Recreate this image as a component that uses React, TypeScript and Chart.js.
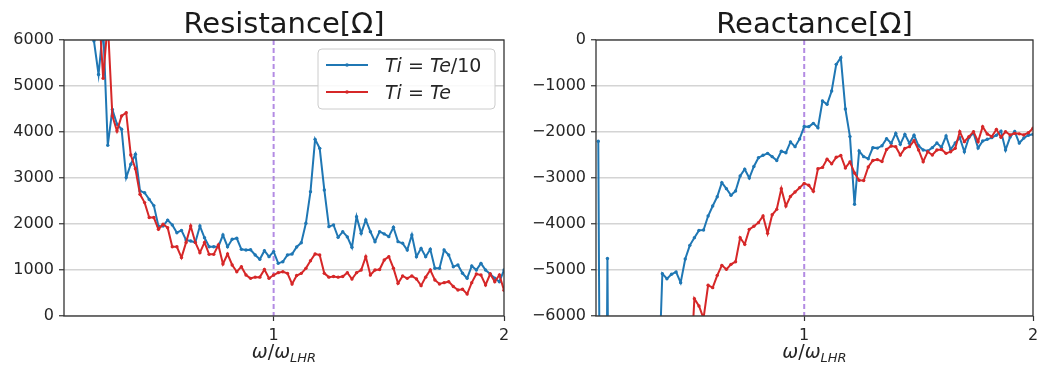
import React, { useEffect, useRef } from "react";
import { Chart, registerables } from "chart.js";

Chart.register(...registerables);

// ω/ω_LHR grid
const freq = [
  0.10, 0.12, 0.14, 0.16, 0.18, 0.20, 0.22, 0.24, 0.26, 0.28,
  0.30, 0.32, 0.34, 0.36, 0.38, 0.40, 0.42, 0.44, 0.46, 0.48,
  0.50, 0.52, 0.54, 0.56, 0.58, 0.60, 0.62, 0.64, 0.66, 0.68,
  0.70, 0.72, 0.74, 0.76, 0.78, 0.80, 0.82, 0.84, 0.86, 0.88,
  0.90, 0.92, 0.94, 0.96, 0.98, 1.00, 1.02, 1.04, 1.06, 1.08,
  1.10, 1.12, 1.14, 1.16, 1.18, 1.20, 1.22, 1.24, 1.26, 1.28,
  1.30, 1.32, 1.34, 1.36, 1.38, 1.40, 1.42, 1.44, 1.46, 1.48,
  1.50, 1.52, 1.54, 1.56, 1.58, 1.60, 1.62, 1.64, 1.66, 1.68,
  1.70, 1.72, 1.74, 1.76, 1.78, 1.80, 1.82, 1.84, 1.86, 1.88,
  1.90, 1.92, 1.94, 1.96, 1.98, 2.00,
];

// Resistance [Ω], Ti = Te/10
const resBlue = [
  12000, 11000, 10000, 9000, 8000, 7000, 5980, 5250, 6300, 3710,
  4490, 4170, 4060, 3010, 3300, 3515, 2720, 2680, 2535, 2400,
  1950, 1955, 2085, 1980, 1810, 1860, 1650, 1630, 1600, 1955,
  1700, 1505, 1505, 1507, 1760, 1507, 1667, 1690, 1449, 1434,
  1440, 1326, 1232, 1420, 1290, 1400, 1145, 1180, 1326, 1348,
  1500, 1594, 2015, 2703, 3840, 3645, 2740, 1942, 1980, 1710,
  1833, 1720, 1493, 2160, 1797, 2087, 1833, 1616, 1833, 1785,
  1725, 1928, 1616, 1580, 1435, 1760, 1290, 1470, 1290, 1450,
  1037, 1037, 1435, 1326, 1072, 1110, 928, 820, 1087, 1000,
  1145, 1000, 913, 820, 746, 1000,
];

// Resistance [Ω], Ti = Te
const resRed = [
  12000, 11000, 10000, 9000, 8000, 7500, 7000, 6800, 5170, 6400,
  4350, 4020, 4350, 4420, 3500, 3200, 2645, 2465, 2140, 2140,
  1885, 1995, 1920, 1505, 1505, 1270, 1600, 1955, 1600, 1377,
  1600, 1340, 1340, 1543, 1130, 1348, 1109, 963, 1072, 891,
  819, 845, 845, 1010, 819, 891, 942, 963, 927, 696,
  880, 927, 1036, 1200, 1348, 1326, 927, 845, 860, 845,
  860, 942, 805, 942, 1000, 1290, 891, 1000, 1010, 1217,
  1290, 1040, 710, 870, 819, 870, 805, 660, 845, 1000,
  783, 696, 725, 746, 640, 565, 580, 478, 725, 913,
  891, 674, 913, 746, 891, 560,
];

// Reactance [Ω], Ti = Te/10
const reaBlue = [
  -2200, -20000, -4750, -20000, -20000, -20000, -20000, -20000, -20000, -20000,
  -20000, -20000, -20000, -8000, -5080, -5190, -5094, -5043, -5275, -4760,
  -4464, -4297, -4138, -4130, -3826, -3609, -3406, -3100, -3232, -3377,
  -3283, -2957, -2810, -3000, -2750, -2558, -2507, -2464, -2536, -2620,
  -2420, -2450, -2217, -2319, -2150, -1880, -1884, -1812, -1906, -1326,
  -1399, -1109, -529, -384, -1500, -2100, -3572, -2413, -2536, -2580,
  -2341, -2350, -2300, -2145, -2246, -2029, -2268, -2051, -2246, -2070,
  -2300, -2390, -2413, -2340, -2240, -2330, -2087, -2380, -2240, -2123,
  -2430, -2120, -2020, -2350, -2196, -2159, -2123, -2070, -1980, -2391,
  -2110, -1990, -2240, -2130, -2070, -2051,
];

// Reactance [Ω], Ti = Te
const reaRed = [
  -20000, -20000, -20000, -20000, -20000, -20000, -20000, -20000, -20000, -20000,
  -20000, -20000, -20000, -20000, -20000, -20000, -20000, -20000, -20000, -20000,
  -7500, -5623, -5783, -6050, -5333, -5384, -5116, -4899, -4986, -4877,
  -4820, -4300, -4442, -4116, -4050, -3971, -3826, -4203, -3800, -3681,
  -3232, -3609, -3400, -3304, -3210, -3116, -3159, -3290, -2800, -2770,
  -2590, -2690, -2550, -2510, -2780, -2650, -2890, -3050, -3055, -2760,
  -2620, -2600, -2640, -2380, -2304, -2319, -2500, -2355, -2319, -2188,
  -2391, -2645, -2428, -2500, -2391, -2380, -2464, -2428, -2355, -1993,
  -2210, -2101, -1993, -2210, -1884, -2043, -2101, -1942, -2116, -1993,
  -2065, -2029, -2040, -2065, -2015, -1920,
];

const xTickValues = [1, 2];
const resYTicks = [0, 1000, 2000, 3000, 4000, 5000, 6000];
const reaYTicks = [-6000, -5000, -4000, -3000, -2000, -1000, 0];
const seriesLabels = ["Ti = Te/10", "Ti = Te"];
const titles = ["Resistance[Ω]", "Reactance[Ω]"];

const BLUE = "#1f77b4";
const RED = "#d62728";
const FONT = "'DejaVu Sans', sans-serif";
const TEXT = "#262626";

type Piece = { t: string; italic?: boolean; scale?: number; dy?: number };

function drawPieces(ctx: CanvasRenderingContext2D, pieces: Piece[], x: number, y: number, size: number, align: "left" | "center") {
  const fontFor = (p: Piece) => `${p.italic ? "italic " : ""}${Math.round(size * (p.scale || 1))}px ${FONT}`;
  let total = 0;
  for (const p of pieces) {
    ctx.font = fontFor(p);
    total += ctx.measureText(p.t).width;
  }
  let cx = align === "center" ? x - total / 2 : x;
  ctx.textAlign = "left";
  ctx.textBaseline = "alphabetic";
  for (const p of pieces) {
    ctx.font = fontFor(p);
    ctx.fillText(p.t, cx, y + (p.dy || 0));
    cx += ctx.measureText(p.t).width;
  }
}

function mathLabel(label: string): Piece[] {
  if (label.indexOf("/") >= 0) {
    return [{ t: "Ti", italic: true }, { t: " = " }, { t: "Te", italic: true }, { t: "/10" }];
  }
  return [{ t: "Ti", italic: true }, { t: " = " }, { t: "Te", italic: true }];
}

function decorPlugin(title: string, showLegend: boolean) {
  return {
    id: "decor",
    beforeDatasetsDraw(chart: any) {
      const { ctx, chartArea } = chart;
      const xs = chart.scales.x;
      const px = xs.getPixelForValue(1);
      ctx.save();
      ctx.strokeStyle = "rgba(160,110,220,0.8)";
      ctx.lineWidth = 2;
      ctx.setLineDash([5, 3]);
      ctx.beginPath();
      ctx.moveTo(px, chartArea.top);
      ctx.lineTo(px, chartArea.bottom);
      ctx.stroke();
      ctx.restore();
    },
    afterDraw(chart: any) {
      const { ctx, chartArea } = chart;
      ctx.save();
      ctx.strokeStyle = "#333";
      ctx.lineWidth = 1.3;
      ctx.strokeRect(chartArea.left, chartArea.top, chartArea.right - chartArea.left, chartArea.bottom - chartArea.top);
      ctx.fillStyle = "#1a1a1a";
      ctx.font = `29px ${FONT}`;
      ctx.textAlign = "center";
      ctx.textBaseline = "alphabetic";
      ctx.fillText(title, (chartArea.left + chartArea.right) / 2, 33);
      ctx.fillStyle = TEXT;
      drawPieces(
        ctx,
        [{ t: "ω", italic: true }, { t: "/" }, { t: "ω", italic: true }, { t: "LHR", italic: true, scale: 0.7, dy: 4 }],
        (chartArea.left + chartArea.right) / 2,
        358,
        19,
        "center"
      );
      if (showLegend) {
        const bx = chartArea.left + 254, by = 49, bw = 177, bh = 60;
        ctx.fillStyle = "rgba(255,255,255,0.85)";
        ctx.strokeStyle = "#cccccc";
        ctx.lineWidth = 1;
        ctx.beginPath();
        (ctx as any).roundRect(bx, by, bw, bh, 4);
        ctx.fill();
        ctx.stroke();
        const colors = [BLUE, RED];
        const rows = [by + 16, by + 43];
        for (let i = 0; i < 2; i++) {
          const y = rows[i];
          ctx.strokeStyle = colors[i];
          ctx.lineWidth = 2;
          ctx.beginPath();
          ctx.moveTo(bx + 8, y);
          ctx.lineTo(bx + 50, y);
          ctx.stroke();
          ctx.fillStyle = colors[i];
          ctx.beginPath();
          ctx.arc(bx + 29, y, 1.8, 0, Math.PI * 2);
          ctx.fill();
          ctx.fillStyle = TEXT;
          drawPieces(ctx, mathLabel(seriesLabels[i]), bx + 67, y + 7, 19, "left");
        }
      }
      ctx.restore();
    },
  };
}

function makeConfig(
  title: string,
  blue: number[],
  red: number[],
  yTicks: number[],
  yAxisWidth: number,
  padRight: number,
  showLegend: boolean
): any {
  const ds = (label: string, vals: number[], color: string, order: number) => ({
    label,
    data: freq.map((f, i) => ({ x: f, y: vals[i] })),
    borderColor: color,
    backgroundColor: color,
    borderWidth: 2,
    pointRadius: 1.7,
    pointBorderWidth: 0,
    pointBackgroundColor: color,
    tension: 0,
    order,
  });
  return {
    type: "line",
    data: {
      datasets: [ds(seriesLabels[0], blue, BLUE, 1), ds(seriesLabels[1], red, RED, 0)],
    },
    options: {
      responsive: false,
      animation: false,
      devicePixelRatio: 1,
      layout: { padding: { left: 0, top: 40, right: padRight, bottom: 0 } },
      plugins: {
        legend: { display: false },
        tooltip: { enabled: false },
        title: { display: false },
      },
      scales: {
        x: {
          type: "linear",
          min: 0.09,
          max: 2,
          afterBuildTicks: (s: any) => {
            s.ticks = xTickValues.map((v) => ({ value: v }));
          },
          afterFit: (s: any) => {
            s.height = 49;
            s.paddingLeft = 0;
            s.paddingRight = 0;
          },
          border: { display: false },
          grid: {
            drawOnChartArea: false,
            drawTicks: true,
            tickLength: 5,
            tickColor: "#333",
            tickWidth: 1.2,
          },
          ticks: {
            padding: 5,
            color: TEXT,
            font: { family: FONT, size: 16 },
            maxRotation: 0,
            callback: (v: any) => String(v),
          },
        },
        y: {
          type: "linear",
          min: yTicks[0],
          max: yTicks[yTicks.length - 1],
          afterBuildTicks: (s: any) => {
            s.ticks = yTicks.map((v) => ({ value: v }));
          },
          afterFit: (s: any) => {
            s.width = yAxisWidth;
          },
          border: { display: false },
          grid: {
            color: "#d4d4d4",
            lineWidth: 1.5,
            drawTicks: true,
            tickLength: 5,
            tickColor: "#333",
            tickWidth: 1.2,
          },
          ticks: {
            padding: 5,
            color: TEXT,
            font: { family: FONT, size: 16 },
            callback: (v: any) => (v < 0 ? "\u2212" + Math.abs(v) : String(v)),
          },
        },
      },
    },
    plugins: [decorPlugin(title, showLegend)],
  };
}

export default function App() {
  const leftRef = useRef<HTMLCanvasElement>(null);
  const rightRef = useRef<HTMLCanvasElement>(null);

  useEffect(() => {
    const c1 = new Chart(leftRef.current as HTMLCanvasElement, makeConfig(titles[0], resBlue, resRed, resYTicks, 64, 16, true));
    const c2 = new Chart(rightRef.current as HTMLCanvasElement, makeConfig(titles[1], reaBlue, reaRed, reaYTicks, 76, 1, false));
    return () => {
      c1.destroy();
      c2.destroy();
    };
  }, []);

  return (
    <div style={{ position: "absolute", left: 0, top: 0, width: 1037, height: 365, background: "#fff", overflow: "hidden" }}>
      <canvas ref={leftRef} width={520} height={365} style={{ position: "absolute", left: 0, top: 0, width: 520, height: 365 }} />
      <canvas ref={rightRef} width={517} height={365} style={{ position: "absolute", left: 520, top: 0, width: 517, height: 365 }} />
    </div>
  );
}
